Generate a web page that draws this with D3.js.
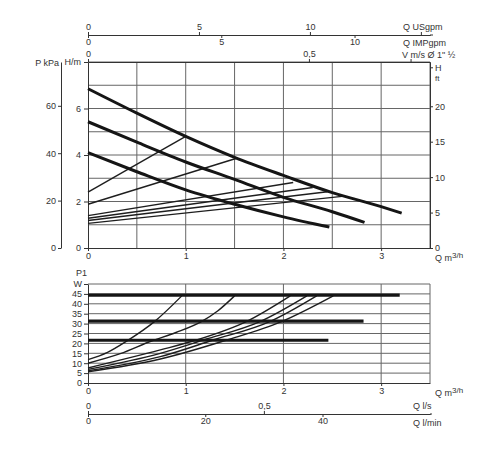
<!DOCTYPE html>
<html>
<head>
<meta charset="utf-8">
<script src="https://cdn.jsdelivr.net/npm/d3@7"></script>
<style>
body{margin:0;background:#fff;}
svg text{font-family:"Liberation Sans",Arial,sans-serif;font-size:9px;fill:#333;}
</style>
</head>
<body>
<svg id="chart" width="500" height="450"></svg>
<script>
// PUMP CURVES, Q m3/h AGAINST H m (3 SPEEDS)
var pumpHigh = [[0,6.85],[0.5,5.8],[1,4.8],[1.5,3.9],[2,3.12],[2.5,2.38],[3,1.78],[3.21,1.5]];
var pumpMid  = [[0,5.43],[0.5,4.55],[1,3.7],[1.5,2.95],[2,2.18],[2.5,1.56],[2.83,1.1]];
var pumpLow  = [[0,4.1],[0.5,3.28],[1,2.5],[1.5,1.88],[2,1.34],[2.47,0.9]];

// THIN SYSTEM LINES IN THE HEAD CHART
var sysA = [[0,2.4],[1,4.8]];
var sysB = [[0,1.88],[1.53,3.87]];
var sysC = [[0,1.39],[2.1,2.82]];
var sysD = [[0,1.28],[2.3,2.6]];
var sysE = [[0,1.18],[2.45,2.42]];
var sysF = [[0,1.06],[2.6,2.22]];

// POWER P1 IN W
var powHigh = [[0,44.4],[3.19,44.4]];
var powMid  = [[0,31.2],[2.82,31.2]];
var powLow  = [[0,21.6],[2.46,21.6]];
var powA = [[0,11.8],[0.2,15.5],[0.4,21.3],[0.68,31],[0.96,44]];
var powB = [[0,10],[0.33,14.8],[0.65,21.2],[0.9,25.5],[1.16,31],[1.33,36.5],[1.5,44]];
var powC = [[0,7.6],[0.74,16.7],[1.11,21.7],[1.62,31],[2.07,44]];
var powD = [[0,6.9],[0.74,15],[1.18,21.7],[1.76,31],[2.24,44]];
var powE = [[0,6.2],[0.74,13.3],[1.28,21.7],[1.86,31],[2.34,44]];
var powF = [[0,5.6],[0.74,12.1],[1.42,21.7],[1.98,31],[2.51,44]];

// TICK VALUES
var qTicks = [0,1,2,3];
var hTicks = [0,2,4,6,8];
var kpaTicks = [0,20,40,60];
var ftTicks = [0,5,10,15,20,25.5];
var wTicks = [0,5,10,15,20,25,30,35,40,45,50];
var usTicks = [0,5,10,15];
var impTicks = [0,5,10];
var vTicks = [0,0.5,0.73];
var lsTicks = [0,0.5];
var lminTicks = [0,20,40];
var qGridTop = [0.5,1,1.5,2,2.5,3,3.5];
var hGrid = [1,2,3,4,5,6,7,8];
var qGridBottom = [1,2,3,3.5];
var wGrid = [5,10,15,20,25,30,35,40,45,50];

var svg = d3.select('#chart');
svg.append('rect').attr('width',500).attr('height',450).attr('fill','#fff');

var x = d3.scaleLinear().domain([0,3.5]).range([88,430]);
var yH = d3.scaleLinear().domain([0,8]).range([248,62]);
var yKpa = d3.scaleLinear().domain([0,8*9.81]).range([248,62]);
var yFt = d3.scaleLinear().domain([0,8/0.3048]).range([248,62]);
var yW = d3.scaleLinear().domain([0,50]).range([383,284]);
var xUs = d3.scaleLinear().domain([0,3.5*4.403]).range([88,430]);
var xImp = d3.scaleLinear().domain([0,3.5*3.666]).range([88,430]);
var xV = d3.scaleLinear().domain([0,0.774]).range([88,430]);
var xLs = d3.scaleLinear().domain([0,3.5/3.6]).range([88,430]);
var xLmin = d3.scaleLinear().domain([0,3.5*1000/60]).range([88,430]);

function comma(d){ return String(d).replace('.',','); }
function plain(d){ return String(d); }

function style_axis(g){
    g.selectAll('.domain').attr('stroke','#333');
    g.selectAll('.tick line').attr('stroke','#333');
    g.selectAll('text').attr('fill','#333').style('font-size','9px');
}

// GRID TOP
var gridTop = svg.append('g').attr('stroke','#666').attr('stroke-width',1);
gridTop.selectAll('.gv').data(qGridTop).enter().append('line')
    .attr('x1',d=>x(d)).attr('x2',d=>x(d)).attr('y1',yH(0)).attr('y2',yH(8));
gridTop.selectAll('.gh').data(hGrid).enter().append('line')
    .attr('x1',x(0)).attr('x2',x(3.5)).attr('y1',d=>yH(d)).attr('y2',d=>yH(d));

// GRID BOTTOM
var gridBot = svg.append('g').attr('stroke','#666').attr('stroke-width',1);
gridBot.selectAll('.gv').data(qGridBottom).enter().append('line')
    .attr('x1',d=>x(d)).attr('x2',d=>x(d)).attr('y1',yW(0)).attr('y2',yW(50));
gridBot.selectAll('.gh').data(wGrid).enter().append('line')
    .attr('x1',x(0)).attr('x2',x(3.5)).attr('y1',d=>yW(d)).attr('y2',d=>yW(d));

// TOP AXES (US GPM ABOVE, IMP GPM BELOW THE SAME LINE)
svg.append('g').attr('transform','translate(0,35)')
    .call(d3.axisTop(xUs).tickValues(usTicks).tickSize(3).tickPadding(2).tickSizeOuter(0)
        .tickFormat(d => d==15 ? '' : plain(d)))
    .call(style_axis);
svg.append('g').attr('transform','translate(0,35)')
    .call(d3.axisBottom(xImp).tickValues(impTicks).tickSize(3).tickPadding(1).tickSizeOuter(0)
        .tickFormat(plain))
    .call(style_axis);
svg.append('line').attr('x1',430).attr('x2',433).attr('y1',35).attr('y2',35).attr('stroke','#333');
svg.append('g').attr('transform','translate(0,62)')
    .call(d3.axisTop(xV).tickValues(vTicks).tickSize(3).tickPadding(2).tickSizeOuter(0)
        .tickFormat(d => d==0.73 ? '' : comma(d)))
    .call(style_axis);

svg.append('text').attr('x',403).attr('y',30).text('Q USgpm');
svg.append('text').attr('x',403).attr('y',46).text('Q IMPgpm');
svg.append('text').attr('x',402).attr('y',58).text('V m/s Ø 1" ½');

// HEAD CHART AXES
svg.append('g').attr('transform','translate(0,248)')
    .call(d3.axisBottom(x).tickValues(qTicks).tickSize(3).tickPadding(2).tickSizeOuter(0)
        .tickFormat(plain))
    .call(style_axis);
svg.append('g').attr('transform','translate(88,0)')
    .call(d3.axisLeft(yH).tickValues(hTicks).tickSize(4).tickPadding(3).tickSizeOuter(0)
        .tickFormat(d => d==8 ? 'H/m' : plain(d)))
    .call(style_axis);
svg.append('g').attr('transform','translate(61,0)')
    .call(d3.axisLeft(yKpa).tickValues(kpaTicks).tickSize(3).tickPadding(2).tickSizeOuter(0)
        .tickFormat(plain))
    .call(style_axis);
svg.append('text').attr('x',59).attr('y',66).attr('text-anchor','end').text('P kPa');
svg.append('g').attr('transform','translate(430,0)')
    .call(d3.axisRight(yFt).tickValues(ftTicks).tickSize(3).tickPadding(2).tickSizeOuter(0)
        .tickFormat(d => d==25.5 ? 'H' : plain(d)))
    .call(style_axis);
svg.append('text').attr('x',435).attr('y',81).style('font-size','8px').text('ft');

function qLabel(xp, yp){
    var t = svg.append('text').attr('x',xp).attr('y',yp);
    t.append('tspan').text('Q m');
    t.append('tspan').attr('dy',-3).style('font-size','8px').text('3/h');
}
qLabel(435,261);

// HEAD CURVES
var lineH = d3.line().x(d=>x(d[0])).y(d=>yH(d[1])).curve(d3.curveMonotoneX);
[sysA,sysB,sysC,sysD,sysE,sysF].forEach(function(s){
    svg.append('path').attr('d',lineH(s)).attr('fill','none')
        .attr('stroke','#1e1e1e').attr('stroke-width',1.4);
});
[pumpHigh,pumpMid,pumpLow].forEach(function(s){
    svg.append('path').attr('d',lineH(s)).attr('fill','none')
        .attr('stroke','#151515').attr('stroke-width',3);
});

// POWER CHART AXES
svg.append('g').attr('transform','translate(0,383)')
    .call(d3.axisBottom(x).tickValues(qTicks).tickSize(3).tickPadding(2).tickSizeOuter(0)
        .tickFormat(plain))
    .call(style_axis);
svg.append('g').attr('transform','translate(88,0)')
    .call(d3.axisLeft(yW).tickValues(wTicks).tickSize(4).tickPadding(2).tickSizeOuter(0)
        .tickFormat(d => d==50 ? 'W' : plain(d)))
    .call(style_axis);
svg.append('text').attr('x',76).attr('y',276).text('P1');
qLabel(435,396);

// POWER CURVES
var lineW = d3.line().x(d=>x(d[0])).y(d=>yW(d[1])).curve(d3.curveMonotoneX);
[powA,powB,powC,powD,powE,powF].forEach(function(s){
    svg.append('path').attr('d',lineW(s)).attr('fill','none')
        .attr('stroke','#1e1e1e').attr('stroke-width',1.4);
});
[powHigh,powMid,powLow].forEach(function(s){
    svg.append('path').attr('d',lineW(s)).attr('fill','none')
        .attr('stroke','#151515').attr('stroke-width',3.2);
});

// BOTTOM FLOW AXES
svg.append('g').attr('transform','translate(0,414)')
    .call(d3.axisTop(xLs).tickValues(lsTicks).tickSize(3).tickPadding(2).tickSizeOuter(0)
        .tickFormat(comma))
    .call(style_axis);
svg.append('g').attr('transform','translate(0,414)')
    .call(d3.axisBottom(xLmin).tickValues(lminTicks).tickSize(3).tickPadding(1).tickSizeOuter(0)
        .tickFormat(plain))
    .call(style_axis);
svg.append('line').attr('x1',430).attr('x2',432).attr('y1',414).attr('y2',414).attr('stroke','#333');
svg.append('text').attr('x',413).attr('y',409).text('Q l/s');
svg.append('text').attr('x',413).attr('y',426).text('Q l/min');
</script>
</body>
</html>
